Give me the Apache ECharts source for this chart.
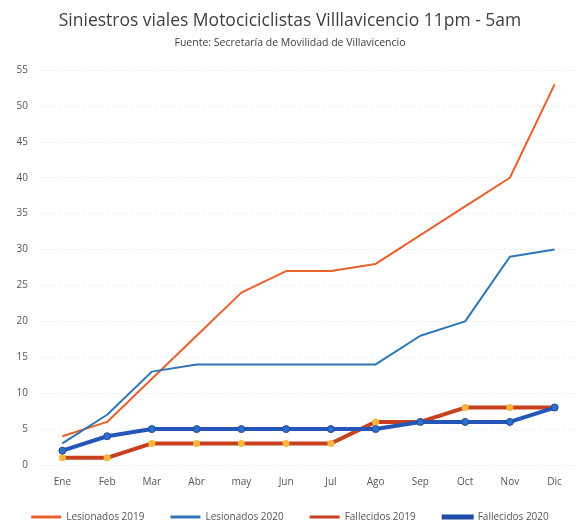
<!DOCTYPE html>
<html>
<head>
<meta charset="utf-8">
<script src="https://cdn.jsdelivr.net/npm/echarts@6/dist/echarts.min.js"></script>
<style>html,body{margin:0;padding:0;background:#fff}#c{width:580px;height:531px}</style>
</head>
<body>
<div id="c"></div>
<script>
var categories = ['Ene','Feb','Mar','Abr','may','Jun','Jul','Ago','Sep','Oct','Nov','Dic'];
var yTicks = [0,5,10,15,20,25,30,35,40,45,50,55];
var lesionados2019 = [4,6,12,18,24,27,27,28,32,36,40,53];
var lesionados2020 = [3,7,13,14,14,14,14,14,18,20,29,30];
var fallecidos2019 = [1,1,3,3,3,3,3,6,6,8,8,8];
var fallecidos2020 = [2,4,5,5,5,5,5,5,6,6,6,8];

var chart = echarts.init(document.getElementById('c'));
chart.setOption({
  animation: false,
  backgroundColor: '#fff',
  title: {
    text: 'Siniestros viales Motociciclistas Villlavicencio 11pm - 5am',
    subtext: 'Fuente: Secretaría de Movilidad de Villavicencio',
    left: 'center', top: 7, itemGap: 8,
    textStyle: {fontFamily: 'Open Sans', fontSize: 17.5, fontWeight: 'normal', color: '#404040'},
    subtextStyle: {fontFamily: 'Open Sans', fontSize: 10.5, color: '#404040'}
  },
  legend: {
    bottom: 4, left: 'center', itemWidth: 30, itemHeight: 3, itemGap: 26,
    textStyle: {fontFamily: 'Open Sans', fontSize: 10, color: '#555'},
    data: [
      {name: 'Lesionados 2019', icon: 'rect'},
      {name: 'Lesionados 2020', icon: 'rect'},
      {name: 'Fallecidos 2019', icon: 'rect', itemStyle: {color: '#C8401E'}},
      {name: 'Fallecidos 2020', icon: 'rect', itemStyle: {color: '#2456B8'}}
    ]
  },
  grid: {left: 40, right: 3, top: 70, bottom: 66},
  xAxis: {
    type: 'category', data: categories, boundaryGap: true,
    axisLine: {show: false}, axisTick: {show: false},
    axisLabel: {fontFamily: 'Open Sans', fontSize: 10, color: '#555', margin: 12}
  },
  yAxis: {
    type: 'value', min: 0, max: 55, interval: 5,
    axisLine: {show: false}, axisTick: {show: false},
    axisLabel: {fontFamily: 'Open Sans', fontSize: 10, color: '#555', margin: 12,
      formatter: function(v){ return yTicks.indexOf(v) >= 0 ? String(v) : ''; }},
    splitLine: {lineStyle: {color: '#f2f2f2', type: 'dashed'}}
  },
  series: [
    {name: 'Lesionados 2019', type: 'line', data: lesionados2019, symbol: 'none',
      lineStyle: {width: 2, color: '#E8602C'}, itemStyle: {color: '#E8602C'}, z: 3},
    {name: 'Lesionados 2020', type: 'line', data: lesionados2020, symbol: 'none',
      lineStyle: {width: 2, color: '#2E75B6'}, itemStyle: {color: '#2E75B6'}, z: 4},
    {name: 'Fallecidos 2019', type: 'line', data: fallecidos2019, symbol: 'circle', symbolSize: 7,
      lineStyle: {width: 4, color: '#C8401E'}, itemStyle: {color: '#F7B63C', borderWidth: 0}, z: 5},
    {name: 'Fallecidos 2020', type: 'line', data: fallecidos2020, symbol: 'circle', symbolSize: 7,
      lineStyle: {width: 4, color: '#2456B8'}, itemStyle: {color: '#2F6FCB', borderColor: '#1E4AA0', borderWidth: 1}, z: 6}
  ]
});
</script>
</body>
</html>
